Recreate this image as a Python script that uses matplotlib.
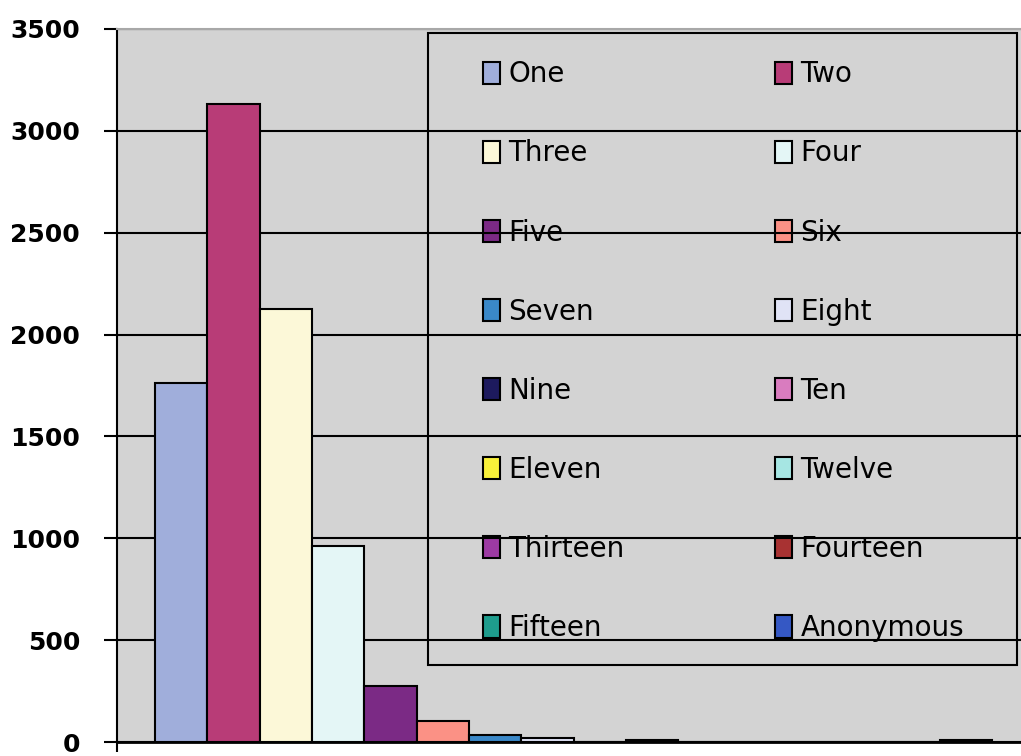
import matplotlib.pyplot as plt
import numpy as np
from matplotlib.patches import Rectangle

# series (one bar per group, single category)
labels = ['One', 'Two', 'Three', 'Four', 'Five', 'Six', 'Seven', 'Eight',
          'Nine', 'Ten', 'Eleven', 'Twelve', 'Thirteen', 'Fourteen', 'Fifteen', 'Anonymous']
counts = [1760, 3130, 2125, 960, 275, 105, 33, 18, 0, 10, 0, 0, 0, 0, 0, 10]
colors = ['#a0aedb', '#b83c77', '#fcf8d8', '#e4f6f6', '#7b2a85', '#fb9185',
          '#3a88c8', '#e0e3f6', '#1d1a5e', '#d97cbf', '#f8f03a', '#a6e6e3',
          '#9c3aa3', '#a83232', '#1e9c8d', '#3558c4']
yticks = [0, 500, 1000, 1500, 2000, 2500, 3000, 3500]

fig = plt.figure(figsize=(10.21, 7.56), dpi=100)
ax = fig.add_axes([117 / 1021, 14 / 756, 913 / 1021, 713 / 756])
ax.set_facecolor('#d3d3d3')

pos = np.arange(len(counts))
bars = ax.bar(pos, counts, width=1.0, align='edge', color=colors,
              edgecolor='black', linewidth=1.5, label=labels, zorder=1)

ax.set_xlim(-0.727, len(counts) + 0.727)
ax.set_ylim(0, 3500)
ax.set_yticks(yticks)
ax.set_yticklabels([str(v) for v in yticks], fontsize=18, fontweight='bold')
ax.set_xticks([-0.727])
ax.set_xticklabels([''])
ax.tick_params(axis='y', direction='out', length=9.5, width=1.5, pad=17)
ax.tick_params(axis='x', direction='out', length=7, width=1.5)

ax.set_axisbelow(True)
ax.yaxis.grid(True, color='black', linewidth=1.5)
ax.spines['left'].set_linewidth(1.5)
ax.spines['bottom'].set_linewidth(2)
ax.spines['top'].set_color('#a8a8a8')
ax.spines['top'].set_linewidth(1.5)
ax.spines['right'].set_visible(False)

# legend: two columns filled row by row, transparent, grid lines run over it
order = list(range(0, len(labels), 2)) + list(range(1, len(labels), 2))
handles = [bars[i] for i in order]
leg_labels = [labels[i] for i in order]
leg = ax.legend(handles, leg_labels, ncol=2, loc='upper left',
                bbox_to_anchor=(0.4009, 0.956, 0.5268, 0.0), mode='expand',
                frameon=False, fontsize=20, borderpad=0, borderaxespad=0,
                handlelength=0.6, handleheight=0.85, handletextpad=0.3,
                labelspacing=1.84)
leg.set_zorder(0.4)
ax.add_patch(Rectangle((0.3406, 0.108), 0.6452, 0.8864, transform=ax.transAxes,
                       fill=False, edgecolor='black', linewidth=1.5, zorder=0.45))

fig.savefig('out.png', dpi=100)
